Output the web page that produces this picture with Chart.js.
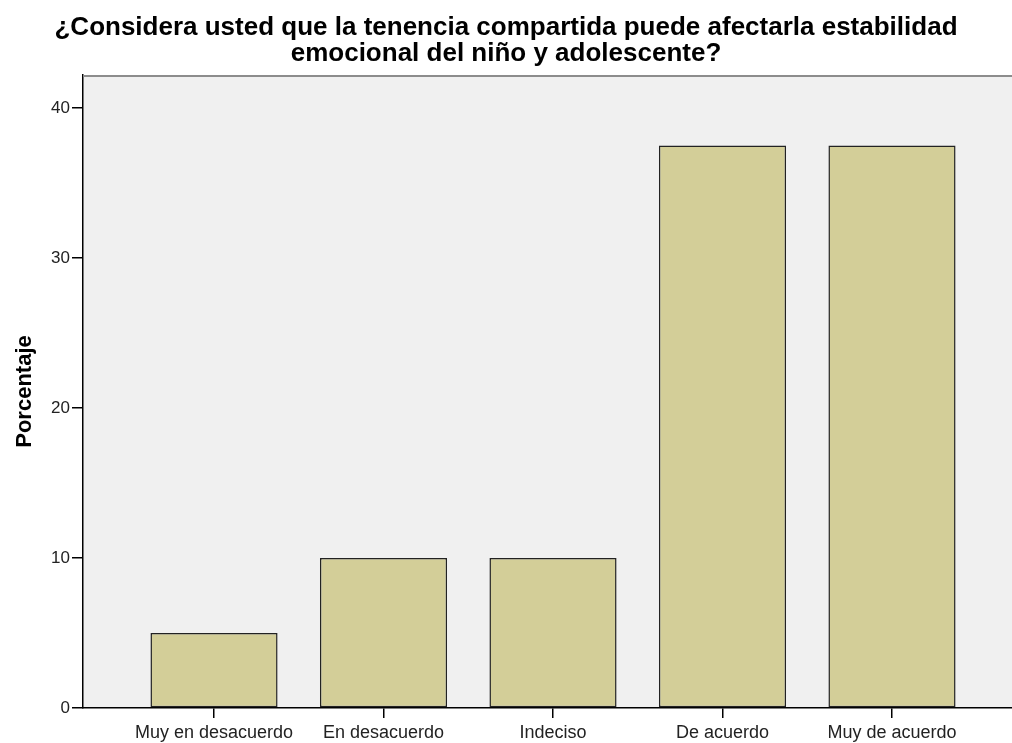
<!DOCTYPE html>
<html>
<head>
<meta charset="utf-8">
<script src="https://cdn.jsdelivr.net/npm/chart.js@4/dist/chart.umd.min.js"></script>
<style>
  html, body { margin: 0; padding: 0; background: #fff; }
  #wrap { width: 1012px; height: 743px; }
</style>
</head>
<body>
<div id="wrap"><canvas id="chart" width="1012" height="743"></canvas></div>
<script>
// datos
const categorias = ['Muy en desacuerdo', 'En desacuerdo', 'Indeciso', 'De acuerdo', 'Muy de acuerdo']
const porcentaje = [5, 10, 10, 37.5, 37.5]
const ticksY = [0, 10, 20, 30, 40]
const titulo = ['¿Considera usted que la tenencia compartida puede afectarla estabilidad', 'emocional del niño y adolescente?']

const FONT = "'Liberation Sans', Arial, sans-serif"

// fondo gris del area de trazado (estilo SPSS)
const fondoPlot = {
  id: 'fondoPlot',
  beforeDraw(chart) {
    const { ctx, chartArea: a } = chart
    ctx.save()
    ctx.fillStyle = '#f0f0f0'
    ctx.fillRect(a.left, a.top, a.right - a.left, a.bottom - a.top)
    ctx.restore()
  },
  afterDraw(chart) {
    const { ctx, chartArea: a } = chart
    ctx.save()
    ctx.strokeStyle = '#8c8c8c'
    ctx.lineWidth = 2
    ctx.beginPath()
    ctx.moveTo(a.left, a.top + 1)
    ctx.lineTo(a.right, a.top + 1)
    ctx.stroke()
    ctx.restore()
  }
}

const ctx = document.getElementById('chart').getContext('2d')
new Chart(ctx, {
  type: 'bar',
  data: {
    datasets: [{
      label: 'Porcentaje',
      data: categorias.map((c, i) => ({ x: i, y: porcentaje[i] })),
      backgroundColor: '#d3ce98',
      borderColor: '#222',
      borderWidth: 1.5,
      borderSkipped: false,
      categoryPercentage: 1,
      barPercentage: 0.75
    }]
  },
  options: {
    responsive: false,
    devicePixelRatio: 1,
    animation: false,
    layout: { padding: 0 },
    plugins: {
      legend: { display: false },
      tooltip: { enabled: false },
      title: {
        display: true,
        text: titulo,
        color: '#000',
        font: { family: FONT, size: 26, weight: 'bold', lineHeight: 1.0 },
        padding: { top: 15, bottom: 8 }
      }
    },
    scales: {
      x: {
        type: 'linear',
        offset: false,
        min: -0.773,
        max: 4.708,
        afterBuildTicks(axis) {
          axis.ticks = categorias.map((c, i) => ({ value: i }))
        },
        afterFit(axis) { axis.height = 35 },
        ticks: {
          autoSkip: false,
          maxRotation: 0,
          padding: 4,
          color: '#222',
          font: { family: FONT, size: 18 },
          callback: (v) => categorias[v] ?? ''
        },
        grid: { offset: false, drawOnChartArea: false, tickLength: 10, color: '#000', lineWidth: 1.5 },
        border: { color: '#000', width: 1.5 }
      },
      y: {
        min: 0,
        max: 42.2,
        afterBuildTicks(axis) {
          axis.ticks = ticksY.map(v => ({ value: v }))
        },
        afterFit(axis) { axis.width = 83 },
        ticks: {
          padding: 2,
          color: '#222',
          font: { family: FONT, size: 17 }
        },
        grid: { drawOnChartArea: false, tickLength: 11, color: '#000', lineWidth: 1.5 },
        border: { color: '#000', width: 1.5 },
        title: {
          display: true,
          text: 'Porcentaje',
          color: '#000',
          font: { family: FONT, size: 22, weight: 'bold', lineHeight: 1.2 },
          padding: { top: 12, bottom: 0 }
        }
      }
    }
  },
  plugins: [fondoPlot]
})
</script>
</body>
</html>
